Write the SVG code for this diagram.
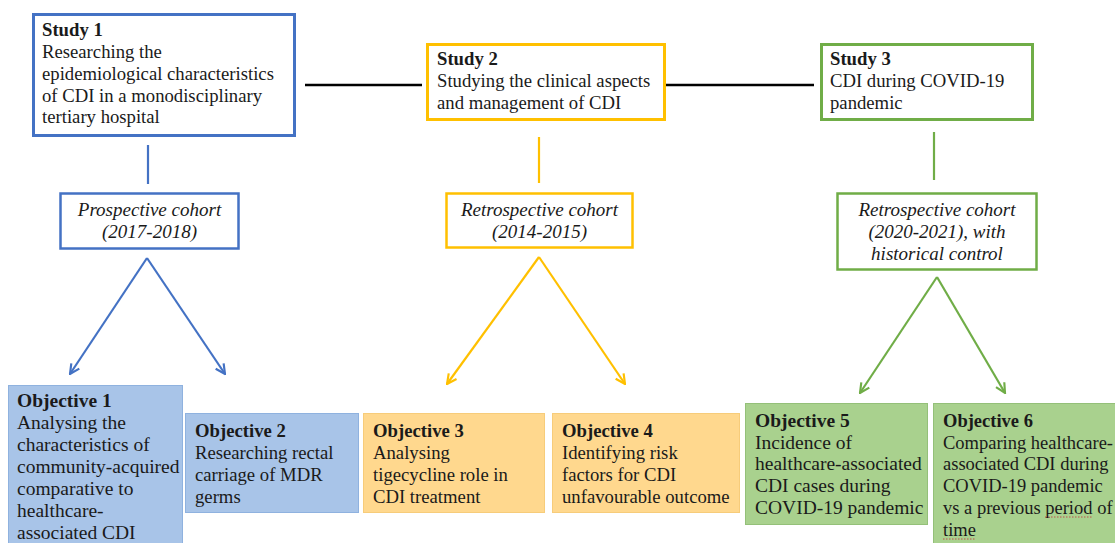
<svg xmlns="http://www.w3.org/2000/svg" width="1115" height="543" viewBox="0 0 1115 543">
<style>
text{font-family:"Liberation Serif","Times New Roman",serif;fill:#1a1a1a}
.st{font-size:18.7px}
.b{font-weight:bold}
.co{font-size:19px;font-style:italic;text-anchor:middle}
.ob{font-size:19.5px}
.obm{font-size:18.7px}
.ob6{font-size:18.5px}
.blue{stroke:#4472C4}
.yel{stroke:#FFC000}
.grn{stroke:#70AD47}
.box{fill:#fff;stroke-width:3}
.cbox{fill:#fff;stroke-width:2.5}
.ln{fill:none;stroke-width:2.2}
.hl{stroke:#000;stroke-width:2.5}
.obB{fill:#A8C4E8;stroke:#8FB2DF;stroke-width:1}
.obY{fill:#FFD88E;stroke:#F7CC7A;stroke-width:1}
.obG{fill:#A9D18E;stroke:#94C079;stroke-width:1}
</style>
<defs>
<marker id="aB" viewBox="0 0 10 10" refX="9" refY="5" markerWidth="12" markerHeight="12" markerUnits="userSpaceOnUse" orient="auto"><path d="M1,1 L9,5 L1,9" fill="none" stroke="#4472C4" stroke-width="1.8"/></marker>
<marker id="aY" viewBox="0 0 10 10" refX="9" refY="5" markerWidth="12" markerHeight="12" markerUnits="userSpaceOnUse" orient="auto"><path d="M1,1 L9,5 L1,9" fill="none" stroke="#FFC000" stroke-width="1.8"/></marker>
<marker id="aG" viewBox="0 0 10 10" refX="9" refY="5" markerWidth="12" markerHeight="12" markerUnits="userSpaceOnUse" orient="auto"><path d="M1,1 L9,5 L1,9" fill="none" stroke="#70AD47" stroke-width="1.8"/></marker>
</defs>
<rect width="1115" height="543" fill="#fff"/>

<g id="connectors">
<line class="hl" x1="305" y1="85" x2="422" y2="85"/>
<line class="hl" x1="666" y1="85" x2="814" y2="85"/>
<line class="ln blue" x1="148" y1="145" x2="148" y2="184"/>
<line class="ln yel" x1="539" y1="137" x2="539" y2="183"/>
<line class="ln grn" x1="934" y1="132" x2="934" y2="180"/>
<path class="ln blue" d="M147,258 L70,374" marker-end="url(#aB)"/>
<path class="ln blue" d="M147,258 L225,374" marker-end="url(#aB)"/>
<path class="ln yel" d="M539,257 L447,384" marker-end="url(#aY)"/>
<path class="ln yel" d="M539,257 L625,384" marker-end="url(#aY)"/>
<path class="ln grn" d="M937,277 L860,393" marker-end="url(#aG)"/>
<path class="ln grn" d="M937,277 L1005,393" marker-end="url(#aG)"/>
</g>

<g id="study1">
<rect class="box blue" x="33.5" y="14.5" width="261" height="121"/>
<text class="st"><tspan class="b" x="42" y="36">Study 1</tspan><tspan x="42" y="58">Researching the</tspan><tspan x="42" y="80">epidemiological characteristics</tspan><tspan x="42" y="101.5">of CDI in a monodisciplinary</tspan><tspan x="42" y="123">tertiary hospital</tspan></text>
</g>
<g id="study2">
<rect class="box yel" x="427.5" y="44.5" width="237" height="75"/>
<text class="st"><tspan class="b" x="437" y="65">Study 2</tspan><tspan x="437" y="87">Studying the clinical aspects</tspan><tspan x="437" y="109">and management of CDI</tspan></text>
</g>
<g id="study3">
<rect class="box grn" x="821.5" y="44.5" width="211" height="75"/>
<text class="st"><tspan class="b" x="830" y="65">Study 3</tspan><tspan x="830" y="87">CDI during COVID-19</tspan><tspan x="830" y="109">pandemic</tspan></text>
</g>

<g id="cohort1">
<rect class="cbox blue" x="60.5" y="193.5" width="178" height="55"/>
<text class="co"><tspan x="149.5" y="216">Prospective cohort</tspan><tspan x="149.5" y="238">(2017-2018)</tspan></text>
</g>
<g id="cohort2">
<rect class="cbox yel" x="446.5" y="193.5" width="186" height="54"/>
<text class="co"><tspan x="539.5" y="216">Retrospective cohort</tspan><tspan x="539.5" y="238">(2014-2015)</tspan></text>
</g>
<g id="cohort3">
<rect class="cbox grn" x="837.5" y="193.5" width="199" height="76"/>
<text class="co"><tspan x="937" y="216">Retrospective cohort</tspan><tspan x="937" y="238">(2020-2021), with</tspan><tspan x="937" y="260">historical control</tspan></text>
</g>

<g id="objective1">
<rect class="obB" x="8.5" y="385.5" width="174" height="170"/>
<text class="ob"><tspan class="b" x="17" y="407">Objective 1</tspan><tspan x="17" y="429">Analysing the</tspan><tspan x="17" y="451">characteristics of</tspan><tspan x="17" y="473">community-acquired</tspan><tspan x="17" y="495">comparative to</tspan><tspan x="17" y="517">healthcare-</tspan><tspan x="17" y="539">associated CDI</tspan></text>
</g>
<g id="objective2">
<rect class="obB" x="185.5" y="413.5" width="173" height="99"/>
<text class="obm"><tspan class="b" x="195" y="437">Objective 2</tspan><tspan x="195" y="459">Researching rectal</tspan><tspan x="195" y="481">carriage of MDR</tspan><tspan x="195" y="503">germs</tspan></text>
</g>
<g id="objective3">
<rect class="obY" x="363.5" y="413.5" width="181" height="99"/>
<text class="obm"><tspan class="b" x="373" y="437">Objective 3</tspan><tspan x="373" y="459">Analysing</tspan><tspan x="373" y="481">tigecycline role in</tspan><tspan x="373" y="503">CDI treatment</tspan></text>
</g>
<g id="objective4">
<rect class="obY" x="552.5" y="413.5" width="187" height="99"/>
<text class="obm"><tspan class="b" x="562" y="437">Objective 4</tspan><tspan x="562" y="459">Identifying risk</tspan><tspan x="562" y="481">factors for CDI</tspan><tspan x="562" y="503">unfavourable outcome</tspan></text>
</g>
<g id="objective5">
<rect class="obG" x="745.5" y="403.5" width="182" height="121"/>
<text class="ob"><tspan class="b" x="755" y="427">Objective 5</tspan><tspan x="755" y="449">Incidence of</tspan><tspan x="755" y="470">healthcare-associated</tspan><tspan x="755" y="492">CDI cases during</tspan><tspan x="755" y="514">COVID-19 pandemic</tspan></text>
</g>
<g id="objective6">
<rect class="obG" x="933.5" y="403.5" width="190" height="150"/>
<text class="ob6"><tspan class="b" x="943" y="427">Objective 6</tspan><tspan x="943" y="449">Comparing healthcare-</tspan><tspan x="943" y="470">associated CDI during</tspan><tspan x="943" y="492">COVID-19 pandemic</tspan><tspan x="943" y="514">vs a previous period of</tspan><tspan x="943" y="536">time</tspan></text>
<line x1="1045" y1="517" x2="1092" y2="517" stroke="#C0504D" stroke-width="1" stroke-dasharray="1.5,1.5"/>
<line x1="943" y1="539" x2="976" y2="539" stroke="#C0504D" stroke-width="1" stroke-dasharray="1.5,1.5"/>
</g>
</svg>
